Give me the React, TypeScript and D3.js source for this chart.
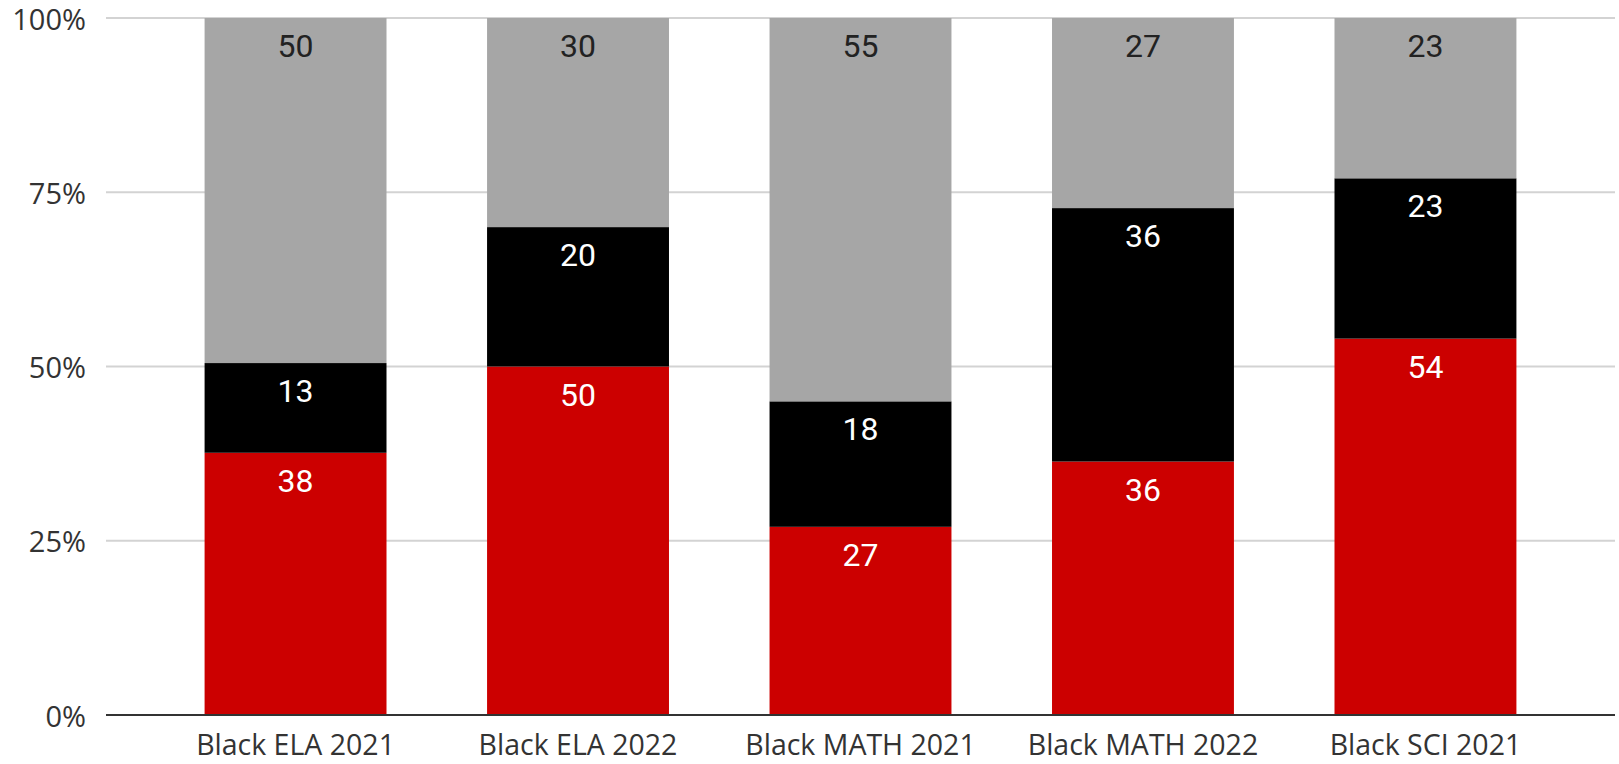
import React from "react";
import * as d3 from "d3";

// Categories along the x axis
const categories = [
  "Black ELA 2021",
  "Black ELA 2022",
  "Black MATH 2021",
  "Black MATH 2022",
  "Black SCI 2021",
];

// Segment values per category, bottom to top
const redValues = [38, 50, 27, 36, 54];
const blackValues = [13, 20, 18, 36, 23];
const grayValues = [50, 30, 55, 27, 23];

const yTickValues = [0, 0.25, 0.5, 0.75, 1];

const seriesKeys = ["red", "black", "gray"] as const;
const seriesFill: Record<string, string> = {
  red: "#cc0000",
  black: "#000000",
  gray: "#a6a6a6",
};
const labelFill: Record<string, string> = {
  red: "#ffffff",
  black: "#ffffff",
  gray: "#222222",
};

const W = 1619;
const H = 764;
const plotLeft = 106;
const plotRight = 1615;
const plotTop = 18;
const plotBottom = 715;

export default function App() {
  const rows = categories.map((c, i) => ({
    category: c,
    red: redValues[i],
    black: blackValues[i],
    gray: grayValues[i],
  }));

  const stacked = d3
    .stack<any>()
    .keys(seriesKeys as unknown as string[])
    .offset(d3.stackOffsetExpand)(rows);

  const x = d3
    .scaleBand<string>()
    .domain(categories)
    .range([plotLeft, plotRight])
    .paddingInner(0.356)
    .paddingOuter(0.349);

  const y = d3.scaleLinear().domain([0, 1]).range([plotBottom, plotTop]);
  const pct = d3.format(".0%");

  return (
    <svg
      width={W}
      height={H}
      style={{ position: "absolute", left: 0, top: 0, background: "#ffffff" }}
    >
      {/* gridlines and y tick labels */}
      {yTickValues.map((t) => (
        <g key={t}>
          {t > 0 && (
            <line
              x1={plotLeft}
              x2={plotRight}
              y1={y(t)}
              y2={y(t)}
              stroke="#d3d3d3"
              strokeWidth={2}
            />
          )}
          <text
            x={86}
            y={y(t)}
            textAnchor="end"
            dominantBaseline="central"
            fontFamily="'Open Sans', sans-serif"
            fontSize={29}
            fill="#333333"
          >
            {pct(t)}
          </text>
        </g>
      ))}

      {/* stacked bars */}
      {stacked.map((layer) => (
        <g key={layer.key} fill={seriesFill[layer.key]}>
          {layer.map((d, i) => (
            <rect
              key={i}
              x={x(categories[i])}
              width={x.bandwidth()}
              y={y(d[1])}
              height={y(d[0]) - y(d[1])}
            />
          ))}
        </g>
      ))}

      {/* value labels near the top of each segment */}
      {stacked.map((layer) => (
        <g key={"lbl-" + layer.key}>
          {layer.map((d, i) => (
            <text
              key={i}
              x={(x(categories[i]) as number) + x.bandwidth() / 2}
              y={y(d[1]) + 39}
              textAnchor="middle"
              fontFamily="Roboto, Arial, sans-serif"
              fontSize={32}
              fill={labelFill[layer.key]}
            >
              {(d.data as any)[layer.key]}
            </text>
          ))}
        </g>
      ))}

      {/* baseline */}
      <line
        x1={plotLeft}
        x2={plotRight}
        y1={y(0)}
        y2={y(0)}
        stroke="#333333"
        strokeWidth={2}
      />

      {/* category labels */}
      {categories.map((c) => (
        <text
          key={c}
          x={(x(c) as number) + x.bandwidth() / 2}
          y={755}
          textAnchor="middle"
          fontFamily="'Open Sans', sans-serif"
          fontSize={28.5}
          fill="#333333"
        >
          {c}
        </text>
      ))}
    </svg>
  );
}
